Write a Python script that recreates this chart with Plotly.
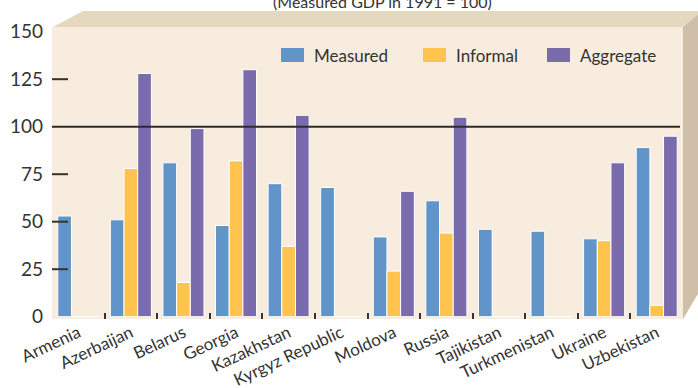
import plotly.graph_objects as go

# Output index values (measured GDP in 1991 = 100)
countries = ["Armenia", "Azerbaijan", "Belarus", "Georgia", "Kazakhstan",
             "Kyrgyz Republic", "Moldova", "Russia", "Tajikistan",
             "Turkmenistan", "Ukraine", "Uzbekistan"]
measured = [53, 51, 81, 48, 70, 68, 42, 61, 46, 45, 41, 89]
informal = [0, 78, 18, 82, 37, 0, 24, 44, 0, 0, 40, 6]
aggregate = [0, 128, 99, 130, 106, 0, 66, 105, 0, 0, 81, 95]

series_names = ["Measured", "Informal", "Aggregate"]
series_colors = ["#6194C8", "#FFC34E", "#7A6BAC"]
y_ticks = [0, 25, 50, 75, 100, 125, 150]
subtitle = "(Measured GDP in 1991 = 100)"

W, H = 698, 388
L, R, T, B = 52, 15, 27, 69
PW, PH = W - L - R, H - T - B


def fx(p):
    """Pixel column -> paper x."""
    return (p - L) / PW


def fy(p):
    """Pixel row -> paper y."""
    return (H - B - p) / PH


FRONT = "#F7ECDD"
TOP = "#E4D9BE"
SIDE = "#CFBEA8"
INK = "#333333"
FONT = "Lato"

fig = go.Figure()
for name, vals, col in zip(series_names, [measured, informal, aggregate], series_colors):
    fig.add_trace(go.Bar(
        x=countries, y=vals, name=name,
        marker=dict(color=col, line=dict(color="white", width=1)),
        showlegend=False,
    ))

shapes = []
# top face of the box
shapes.append(dict(
    type="path", xref="paper", yref="paper", layer="below",
    path=f"M {fx(53)},{fy(27)} L {fx(83)},{fy(11)} L {fx(705)},{fy(11)} L {fx(683)},{fy(27)} Z",
    fillcolor=TOP, line=dict(width=0),
))
# right side face of the box
shapes.append(dict(
    type="path", xref="paper", yref="paper", layer="below",
    path=f"M {fx(683)},{fy(27)} L {fx(705)},{fy(9)} L {fx(705)},{fy(282)} L {fx(683)},{fy(319)} Z",
    fillcolor=SIDE, line=dict(width=0),
))
# reference line at 100
shapes.append(dict(
    type="line", xref="paper", yref="y", x0=0, x1=fx(680), y0=100, y1=100,
    line=dict(color="#2B2B2B", width=2), layer="above",
))
# short y-axis tick marks
for v in [25, 50, 75, 125]:
    shapes.append(dict(
        type="line", xref="paper", yref="y", x0=0, x1=fx(68), y0=v, y1=v,
        line=dict(color=INK, width=2), layer="above",
    ))

annotations = []
# legend
legend_x = [281, 423, 547]
for name, col, x0 in zip(series_names, series_colors, legend_x):
    shapes.append(dict(
        type="rect", xref="paper", yref="paper",
        x0=fx(x0), x1=fx(x0 + 23), y0=fy(62), y1=fy(48),
        fillcolor=col, line=dict(width=0),
    ))
    annotations.append(dict(
        text=name, xref="paper", yref="paper", x=fx(x0 + 31), y=fy(55),
        xanchor="left", yanchor="middle", showarrow=False,
        font=dict(family=FONT, size=17, color=INK),
    ))

annotations.append(dict(
    text=subtitle, xref="paper", yref="paper", x=fx(382), y=fy(13),
    xanchor="center", yanchor="bottom", showarrow=False,
    font=dict(family=FONT, size=16, color=INK),
))

fig.update_layout(
    width=W, height=H,
    margin=dict(l=L, r=R, t=T, b=B, pad=0, autoexpand=False),
    paper_bgcolor="white", plot_bgcolor=FRONT,
    barmode="group", bargap=0.22, bargroupgap=0.0,
    shapes=shapes, annotations=annotations,
    font=dict(family=FONT, color=INK),
    xaxis=dict(
        tickangle=-25, tickfont=dict(size=17, color=INK), automargin=False,
        ticks="inside", tickson="boundaries", ticklen=6, tickwidth=2,
        tickcolor=INK, showgrid=False, showline=False, zeroline=False,
    ),
    yaxis=dict(
        range=[-1.21, 152.47], tickvals=y_ticks, automargin=False,
        tickfont=dict(size=19, color=INK), ticks="",
        ticklabelstandoff=8, showgrid=False, zeroline=False, showline=False,
    ),
)

fig.write_html("out.html")
